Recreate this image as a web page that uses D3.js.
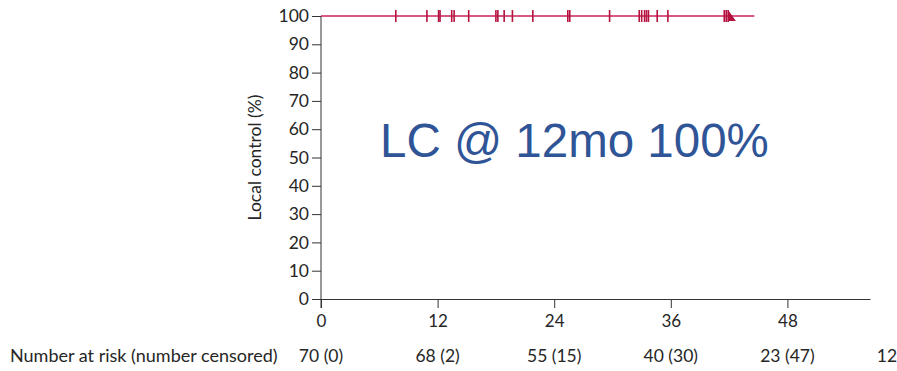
<!DOCTYPE html>
<html>
<head>
<meta charset="utf-8">
<script src="https://cdn.jsdelivr.net/npm/d3@7"></script>
<style>
  body { margin: 0; background: #fff; }
  svg { display: block; }
</style>
</head>
<body>
<div id="chart"></div>
<script>
const W = 897, H = 371

// survival curve (months, % local control)
const curveMonths = [0, 44.6]
const curvePct = [100, 100]
// censoring marks (months)
const censorMonths = [7.7, 10.9, 12.1, 12.25, 13.45, 13.7, 15.2, 18.0, 18.2, 18.85, 19.7,
  21.8, 25.4, 25.6, 29.7, 32.75, 33.0, 33.3, 33.5, 33.7, 34.6, 35.7, 41.5, 41.7, 41.9]
// dense censoring block drawn as a wedge
const wedgeMonths = [41.9, 42.7]

const xTicks = [0, 12, 24, 36, 48]
const yTicks = [0, 10, 20, 30, 40, 50, 60, 70, 80, 90, 100]
const riskMonths = [0, 12, 24, 36, 48, 60]
const riskLabels = ["70 (0)", "68 (2)", "55 (15)", "40 (30)", "23 (47)", "12 (58)"]

const x = d3.scaleLinear().domain([0, 56.5]).range([321, 870])
const y = d3.scaleLinear().domain([0, 100]).range([299, 16])

const svg = d3.select("#chart").append("svg")
    .attr("width", W)
    .attr("height", H)

const tickFont = "Lato, 'Open Sans', sans-serif"
const axisColor = "#333"
const textColor = "#262626"

// y axis
const yAxis = svg.append("g")
    .attr("transform", `translate(${x(0)},0)`)
    .call(d3.axisLeft(y).tickValues(yTicks).tickSize(9).tickPadding(3).tickSizeOuter(0))
yAxis.select(".domain").attr("stroke", axisColor).attr("d", `M0,${y(100)}V${y(0) + 9}`)
yAxis.selectAll(".tick line").attr("stroke", axisColor)
yAxis.selectAll(".tick text")
    .attr("font-family", tickFont).attr("font-size", 17.5).attr("fill", textColor)

// x axis
const xAxis = svg.append("g")
    .attr("transform", `translate(0,${y(0)})`)
    .call(d3.axisBottom(x).tickValues(xTicks).tickSize(9).tickPadding(7).tickSizeOuter(0))
xAxis.select(".domain").attr("stroke", axisColor)
xAxis.selectAll(".tick line").attr("stroke", axisColor)
xAxis.selectAll(".tick text")
    .attr("font-family", tickFont).attr("font-size", 17).attr("fill", textColor)

// y label
svg.append("text")
    .attr("transform", `translate(261,${(y(0) + y(100)) / 2}) rotate(-90)`)
    .attr("text-anchor", "middle")
    .attr("font-family", tickFont)
    .attr("font-size", 17.5)
    .attr("fill", textColor)
    .text("Local control (%)")

// curve
const line = d3.line().x(d => x(d[0])).y(d => y(d[1]))
svg.append("path")
    .datum(curveMonths.map((m, i) => [m, curvePct[i]]))
    .attr("d", line)
    .attr("fill", "none")
    .attr("stroke", "#c9235a")
    .attr("stroke-width", 1.5)

// censor ticks
svg.selectAll(".censor")
  .data(censorMonths)
  .enter().append("line")
    .attr("class", "censor")
    .attr("x1", d => x(d)).attr("x2", d => x(d))
    .attr("y1", y(100) - 6).attr("y2", y(100) + 6)
    .attr("stroke", "#b5123f")
    .attr("stroke-width", 1.6)

// wedge of dense censoring
svg.append("path")
    .attr("d", `M${x(wedgeMonths[0])},${y(100) - 6}L${x(wedgeMonths[1])},${y(100) + 5}L${x(wedgeMonths[0])},${y(100) + 5}Z`)
    .attr("fill", "#b5123f")

// annotation
svg.append("text")
    .attr("x", 380)
    .attr("y", 157)
    .attr("font-family", "'Liberation Sans', Arial, sans-serif")
    .attr("font-size", 47.5)
    .attr("fill", "#2f5597")
    .text("LC @ 12mo 100%")

// number at risk
svg.append("text")
    .attr("x", 10)
    .attr("y", 362)
    .attr("font-family", tickFont)
    .attr("font-size", 18)
    .attr("fill", textColor)
    .text("Number at risk (number censored)")

svg.selectAll(".risk")
  .data(riskMonths)
  .enter().append("text")
    .attr("class", "risk")
    .attr("x", d => x(d))
    .attr("y", 362)
    .attr("text-anchor", "middle")
    .attr("font-family", tickFont)
    .attr("font-size", 17.5)
    .attr("fill", textColor)
    .text((d, i) => riskLabels[i])
</script>
</body>
</html>
